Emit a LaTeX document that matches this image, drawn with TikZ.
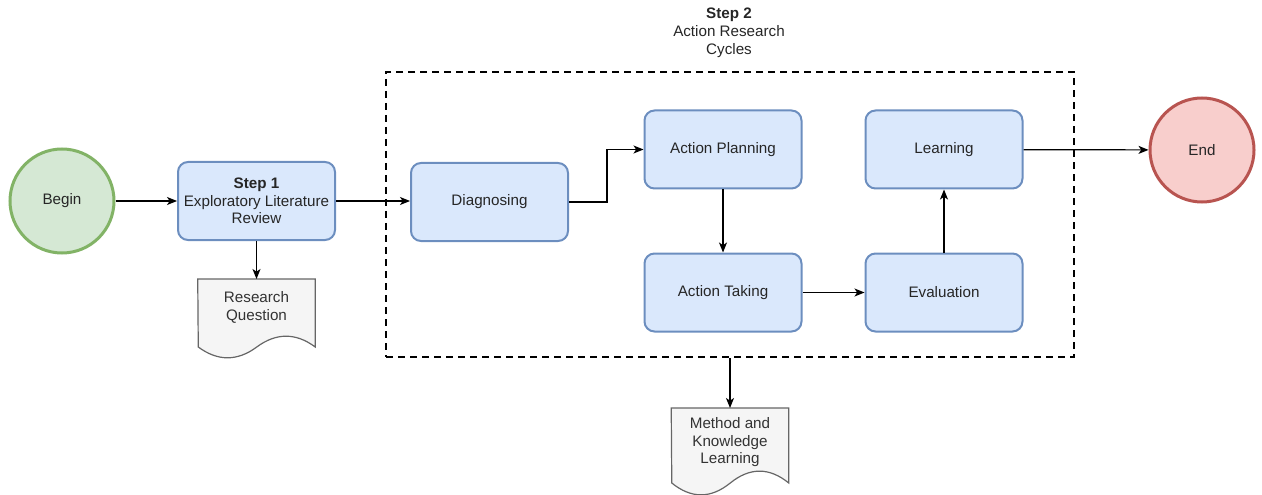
\documentclass[tikz,border=0pt]{standalone}
\usepackage{fontspec}
\setmainfont{Liberation Sans}
\usetikzlibrary{arrows.meta,backgrounds}

\definecolor{boxfill}{HTML}{DAE8FC}
\definecolor{boxline}{HTML}{6C8EBF}
\definecolor{beginfill}{HTML}{D5E8D4}
\definecolor{beginline}{HTML}{82B366}
\definecolor{endfill}{HTML}{F8CECC}
\definecolor{endline}{HTML}{B85450}
\definecolor{docfill}{HTML}{F5F5F5}
\definecolor{docline}{HTML}{666666}
\definecolor{doctext}{HTML}{333333}

\begin{document}
\begin{tikzpicture}[x=0.75pt,y=0.75pt,yscale=-1,
	every node/.style={font=\fontsize{11.4}{13.3}\selectfont, text=black!85},
	stepbox/.style={draw=boxline, fill=boxfill, line width=1.5pt, rounded corners=7.5pt, minimum width=117.75pt, minimum height=58.5pt, align=center, inner sep=0pt},
	terminal/.style={circle, line width=2.25pt, minimum size=78pt, inner sep=0pt},
	doc/.style={minimum width=87.75pt, align=center, inner sep=0pt, text=doctext},
	docedge/.style={draw=docline, fill=docfill, line width=0.9pt},
	arr/.style={-{Stealth[length=7.5pt,width=6pt,inset=2pt]}, line width=0.9pt},
	frame/.style={draw, dashed, dash pattern=on 5.25pt off 3.75pt, line width=1.8pt, minimum width=516pt, minimum height=213.75pt, inner sep=0pt}]
	\useasboundingbox (0,0) rectangle (1262,495);
	% frame of the cycles
	\node [frame] (cycles) at (730,214.5) {};
	\node [align=center] (steptwo) at (729,33) {\textbf{Step 2}\\Action Research\\Cycles};
	% nodes
	\node [terminal, draw=beginline, fill=beginfill] (begin) at (62,201) {Begin};
	\node [stepbox] (review) at (256.5,201) {\textbf{Step 1}\\Exploratory Literature\\Review};
	\node [stepbox] (diag) at (489.5,202) {Diagnosing};
	\node [stepbox] (plan) at (723,149.5) {Action Planning};
	\node [stepbox] (take) at (723,292.5) {Action Taking};
	\node [stepbox] (eval) at (944,292.5) {Evaluation};
	\node [stepbox] (learn) at (944,149.5) {Learning};
	\node [terminal, draw=endline, fill=endfill] (end) at (1202,150) {End};
	\node [doc, anchor=north, minimum height=42pt] (question) at (256.5,279) {Research\\Question};
	\node [doc, anchor=north, minimum height=51pt] (method) at (730,408) {Method and\\Knowledge\\Learning};
	% document outlines
	\begin{pgfonlayer}{background}
		\draw [docedge] (question.north west) -- (question.north east) -- ++(0,68) .. controls +(-19.5,-14.4) and +(19.5,-14.4) .. ++(-58.5,0) .. controls +(-19.5,14.4) and +(19.5,14.4) .. ++(-58.5,0) -- cycle;
		\draw [docedge] (method.north west) -- (method.north east) -- ++(0,75) .. controls +(-19.5,-15.8) and +(19.5,-15.8) .. ++(-58.5,0) .. controls +(-19.5,15.8) and +(19.5,15.8) .. ++(-58.5,0) -- cycle;
	\end{pgfonlayer}
	% connectors
	\draw [arr] (begin) -- (review);
	\draw [arr] (review.east) -- (diag.west |- review.east);
	\draw [arr] (review) -- (question);
	\draw [arr] (diag.east) -- ++(38,0) |- (plan.west);
	\draw [arr] (plan) -- (take);
	\draw [arr] (take) -- (eval);
	\draw [arr] (eval) -- (learn);
	\draw [arr] (learn) -- (end);
	\draw [arr] (cycles.south) -- (method.north);
\end{tikzpicture}
\end{document}
